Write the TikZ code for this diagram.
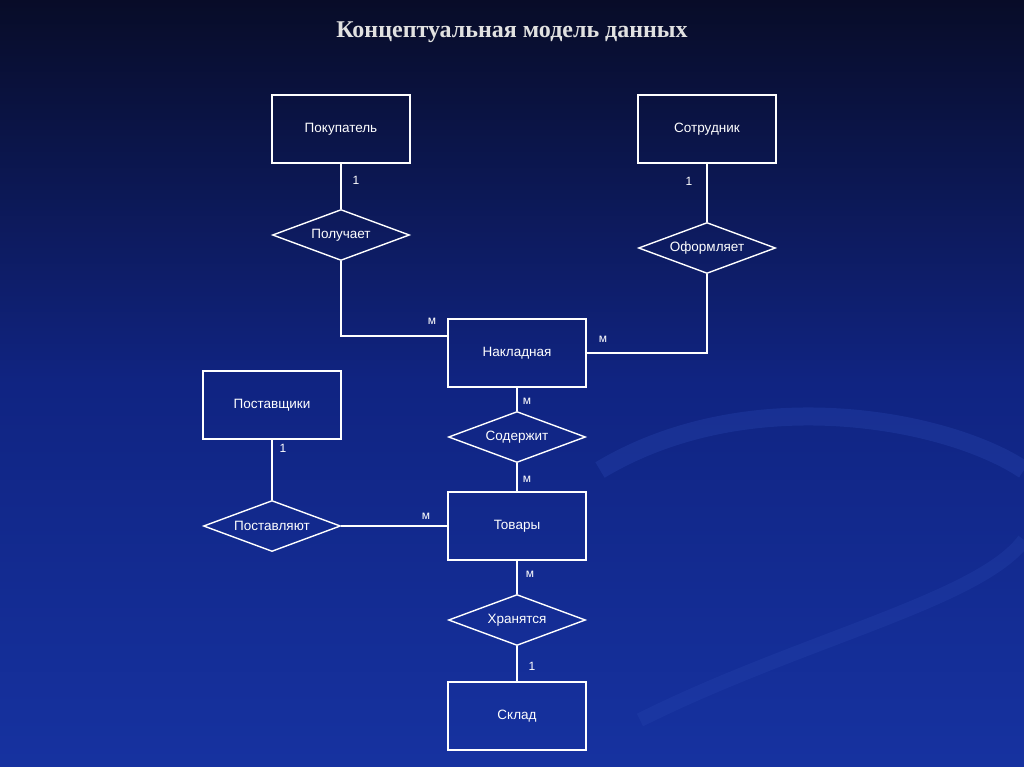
\documentclass[tikz,border=0pt]{standalone}
\usepackage{fontspec}
\setmainfont{Liberation Sans}
\newfontfamily\titlefont{Liberation Serif}
\usetikzlibrary{shapes.geometric,calc}

\definecolor{bgtop}{RGB}{8,12,40}
\definecolor{bgmid}{RGB}{16,36,130}
\definecolor{bgbot}{RGB}{22,50,160}
\definecolor{swirl}{RGB}{40,70,175}
\definecolor{titlegray}{RGB}{225,225,225}

\tikzset{
    entity/.style={draw=white, line width=1.4pt, minimum width=138pt, minimum height=68pt, text=white, font=\fontsize{13.5}{15}\selectfont},
    relation/.style={draw=white, line width=1.4pt, diamond, minimum width=137pt, minimum height=51pt, inner sep=0pt,
        label={[text=white, font=\fontsize{13.5}{15}\selectfont]center:#1}},
    link/.style={draw=white, line width=1.4pt},
    card/.style={text=white, font=\fontsize{12}{14}\selectfont}
}

\begin{document}
\begin{tikzpicture}[x=1pt,y=-1pt]
    \shade[top color=bgtop, bottom color=bgbot, middle color=bgmid] (0,0) rectangle (1024,767);
    \useasboundingbox (0,0) rectangle (1024,767);

    % faint swirls
    \draw[line width=18pt, swirl, opacity=0.35] (600,470) .. controls (750,380) and (950,420) .. (1024,470);
    \draw[line width=14pt, swirl, opacity=0.3] (640,720) .. controls (800,640) and (980,600) .. (1024,540);

    \node[text=titlegray, font=\titlefont\bfseries\fontsize{24}{28}\selectfont] (title) at (512,32) {Концептуальная модель данных};

    \node[entity] (buyer) at (341,129) {Покупатель};
    \node[entity] (staff) at (707,129) {Сотрудник};
    \node[relation=Получает] (gets) at (341,235) {};
    \node[relation=Оформляет] (issues) at (707,248) {};
    \node[entity] (invoice) at (517,353) {Накладная};
    \node[entity] (supplier) at (272,405) {Поставщики};
    \node[relation=Содержит] (contains) at (517,437) {};
    \node[entity] (goods) at (517,526) {Товары};
    \node[relation=Поставляют] (supply) at (272,526) {};
    \node[relation=Хранятся] (stored) at (517,620) {};
    \node[entity] (store) at (517,716) {Склад};

    \draw[link] (buyer) -- (gets);
    \draw[link] (gets.south) |- ($(invoice.west)+(0,-17)$);
    \draw[link] (staff) -- (issues);
    \draw[link] (issues.south) |- (invoice.east);
    \draw[link] (invoice) -- (contains);
    \draw[link] (contains) -- (goods);
    \draw[link] (supplier.south) -- (supply.north);
    \draw[link] (supply.east) -- (goods.west);
    \draw[link] (goods) -- (stored);
    \draw[link] (stored) -- (store);

    \node[card] (c1) at (356,180) {1};
    \node[card] (c2) at (689,181) {1};
    \node[card] (c3) at (283,448) {1};
    \node[card] (c4) at (532,666) {1};
    \node[card] (m1) at (432,321) {м};
    \node[card] (m2) at (603,339) {м};
    \node[card] (m3) at (527,401) {м};
    \node[card] (m4) at (527,479) {м};
    \node[card] (m5) at (426,516) {м};
    \node[card] (m6) at (530,574) {м};
\end{tikzpicture}
\end{document}
